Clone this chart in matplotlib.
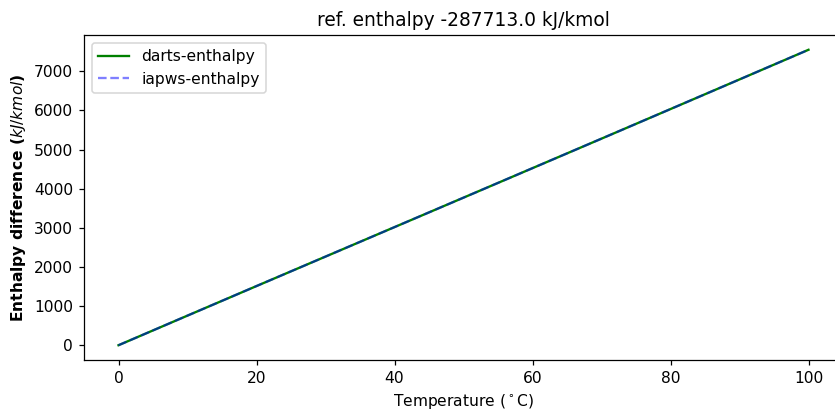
import matplotlib
matplotlib.use('Agg')
import matplotlib.pyplot as plt

# temperature (C) and enthalpy difference relative to 0 C (kJ/kmol)
temperature = [0, 10, 20, 30, 40, 50, 60, 70, 80, 90, 100]
darts_enthalpy = [0, 757, 1512, 2265, 3018, 3771, 4525, 5279, 6035, 6792, 7550]
iapws_enthalpy = [0, 757, 1512, 2265, 3018, 3771, 4525, 5279, 6035, 6792, 7550]
ref_enthalpy = -287713.0

dpi = 111.5
fig = plt.figure(figsize=(835 / dpi, 410 / dpi), dpi=dpi)
ax = fig.add_axes([84 / 835, 1 - 360 / 410, 759 / 835, 325 / 410])

ax.plot(temperature, darts_enthalpy, 'g-', label='darts-enthalpy')
ax.plot(temperature, iapws_enthalpy, 'b--', alpha=0.5, label='iapws-enthalpy')

ax.set_title('ref. enthalpy %.1f kJ/kmol' % ref_enthalpy)
ax.set_xlabel('Temperature ($^\\circ$C)')
ax.set_ylabel('Enthalpy difference ($kJ/kmol$)', fontweight='bold')
ax.legend(loc='upper left')

plt.savefig('out.png', dpi=dpi)
